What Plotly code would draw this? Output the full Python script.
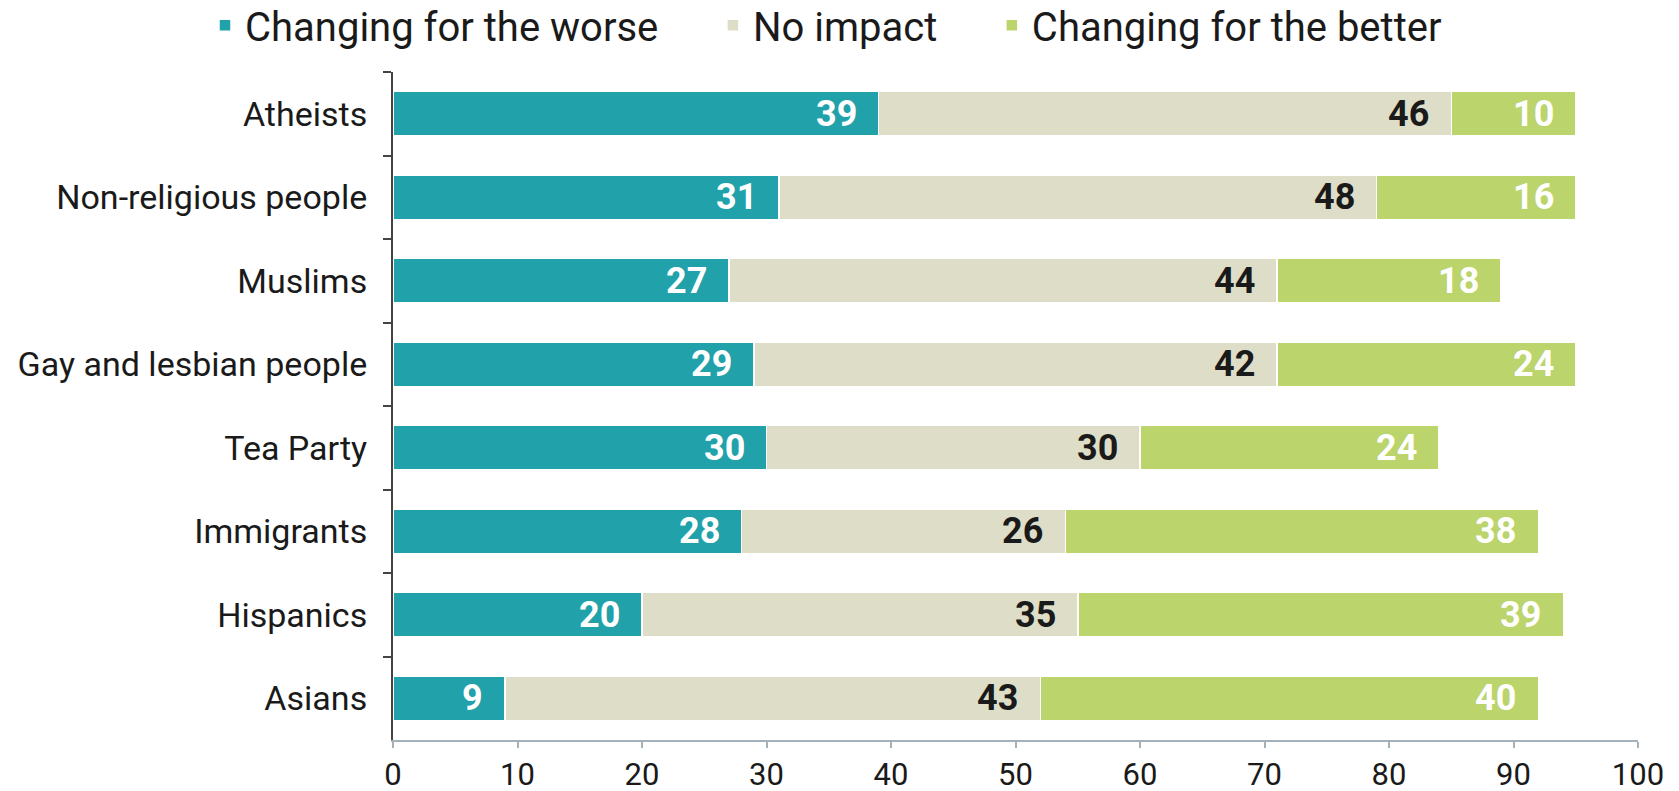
import plotly.graph_objects as go

categories = ["Atheists", "Non-religious people", "Muslims", "Gay and lesbian people",
              "Tea Party", "Immigrants", "Hispanics", "Asians"]
worse = [39, 31, 27, 29, 30, 28, 20, 9]
no_impact = [46, 48, 44, 42, 30, 26, 35, 43]
better = [10, 16, 18, 24, 24, 38, 39, 40]
x_ticks = [0, 10, 20, 30, 40, 50, 60, 70, 80, 90, 100]

series = [
    ("Changing for the worse", worse, "#21a1aa", "#ffffff"),
    ("No impact", no_impact, "#dedec8", "#1a1a1a"),
    ("Changing for the better", better, "#bbd46b", "#ffffff"),
]

FONT = "Roboto, Liberation Sans, Arial, sans-serif"
PAD = "\u00a0" * 5

fig = go.Figure()
for name, vals, color, _ in series:
    fig.add_trace(go.Bar(
        y=categories, x=vals, name=name + PAD, orientation="h",
        marker=dict(color=color, line=dict(color="#ffffff", width=1.5)),
        hoverinfo="x+name",
    ))

annotations = []
cum = [0] * len(categories)
for name, vals, color, tcolor in series:
    for i, (c, v) in enumerate(zip(categories, vals)):
        cum[i] += v
        annotations.append(dict(
            x=cum[i], y=c, xref="x", yref="y", text=f"<b>{v}</b>",
            showarrow=False, xanchor="right", yanchor="middle", xshift=-20,
            font=dict(family=FONT, size=36, color=tcolor),
        ))

# page has an 8px body margin; figure sized to fit the 1679x791 window
W, H = 1663, 783
fig.update_layout(
    barmode="stack",
    bargap=0.47,
    width=W, height=H,
    margin=dict(l=385, r=W - 1630, t=64, b=H - 732, autoexpand=False),
    paper_bgcolor="white", plot_bgcolor="white",
    font=dict(family=FONT, color="#1a1a1a"),
    showlegend=True,
    legend=dict(
        orientation="h", xref="paper", yref="paper",
        x=-0.151, y=1.07, xanchor="left", yanchor="middle",
        font=dict(family=FONT, size=40, color="#1a1a1a"),
        traceorder="normal", itemclick=False, itemdoubleclick=False,
    ),
    annotations=annotations,
    xaxis=dict(
        range=[0, 100], tickvals=x_ticks, ticktext=[str(t) for t in x_ticks],
        showgrid=False, zeroline=False, automargin=False,
        showline=True, linecolor="#a3b1ba", linewidth=2,
        ticks="outside", ticklen=6, tickwidth=2, tickcolor="#a3b1ba",
        tickfont=dict(family=FONT, size=31, color="#1a1a1a"),
        ticklabelstandoff=0,
    ),
    yaxis=dict(
        categoryorder="array", categoryarray=categories, autorange="reversed",
        showgrid=False, zeroline=False, automargin=False,
        showline=True, linecolor="#444444", linewidth=2,
        ticks="outside", ticklen=8, tickwidth=2, tickcolor="#444444",
        tickson="boundaries",
        tickfont=dict(family=FONT, size=34, color="#1a1a1a"),
        ticklabelstandoff=17,
    ),
)

fig.write_html("out.html")
